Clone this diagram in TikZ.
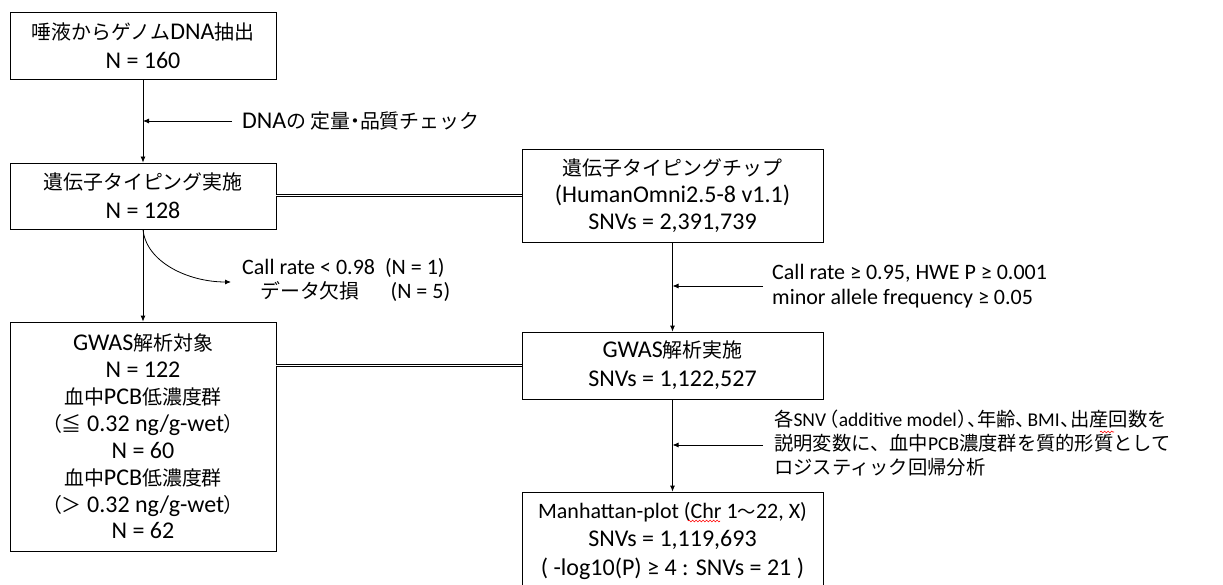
\documentclass[tikz,border=0pt]{standalone}
\usepackage{fontspec}
\setmainfont{Carlito}
\newfontfamily\jpfont{Noto Sans CJK JP}[Scale=0.83]
\newfontfamily\jpfontp{Noto Sans CJK JP}[Scale=0.83,RawFeature=+palt]
\newfontfamily\jpfontl{Noto Sans CJK JP}[Scale=0.99]
\newfontfamily\jpfontlp{Noto Sans CJK JP}[Scale=0.99,RawFeature=+palt]
\newcommand\J[1]{{\jpfont #1}}
\newcommand\JP[1]{{\jpfontp #1}}
\newcommand\JL[1]{{\jpfontl #1}}
\newcommand\JLP[1]{{\jpfontlp #1}}
\usetikzlibrary{arrows.meta,decorations.pathmorphing}
\begin{document}
\begin{tikzpicture}[x=1pt,y=-1pt,
  every node/.style={font=\fontsize{24}{29}\selectfont, inner sep=0pt},
  box/.style={draw, line width=0.8pt, align=center},
  lbox/.style={box, minimum width=266pt},
  rbox/.style={box, minimum width=301pt},
  arr/.style={line width=0.8pt, -{Latex[length=6pt,width=5pt]}},
  dbl/.style={double, line width=0.7pt, double distance=1.8pt},
  lab/.style={anchor=west, align=left},
  spell/.style={draw=red, line width=0.6pt, decorate, decoration={snake, amplitude=0.9pt, segment length=3.5pt}}]
\useasboundingbox (0,0) rectangle (1223,585);
\fill[white] (0,0) rectangle (1223,585);
% left column
\node[lbox, minimum height=67pt] (b1) at (143,45.5) {\J{唾液からゲノム}DNA\J{抽出}\\N = 160};
\node[lbox, minimum height=66pt] (b2) at (143,196) {\J{遺伝子タイピング実施}\\N = 128};
\node[lbox, minimum height=229pt, font=\fontsize{24}{26.9}\selectfont] (b5) at (143,436.5) {GWAS\J{解析対象}\\N = 122\\\J{血中}PCB\J{低濃度群}\\\JP{（}\J{≦} 0.32 ng/g-wet\JP{）}\\N = 60\\\J{血中}PCB\J{低濃度群}\\\JP{（}\J{＞} 0.32 ng/g-wet\JP{）}\\N = 62};
% right column
\node[rbox, minimum height=93pt, font=\fontsize{24}{27}\selectfont] (b3) at (672.5,195.5) {\J{遺伝子タイピングチップ}\\(HumanOmni2.5-8 v1.1)\\SNVs = 2,391,739};
\node[rbox, minimum height=67pt] (b4) at (672.5,365.5) {GWAS\J{解析実施}\\SNVs = 1,122,527};
\node[rbox, minimum height=98pt, font=\fontsize{24}{28.5}\selectfont] (b6) at (672.5,541) {{\fontsize{22}{28.5}\selectfont Manhattan-plot (Chr 1\JP{～}22, X)}\\SNVs = 1,119,693\\( -log10(P) ≥ 4 : SNVs = 21 )};
% labels
\node[lab] (l1) at (242,121) {DNA\J{の}\,\J{定量}\JP{・}\J{品質チェック}};
\node[lab, font=\fontsize{22}{24}\selectfont] (l2) at (242,280) {Call rate < 0.98\ \ (N = 1)\\\hspace*{18pt}{\jpfont\fontsize{24}{24}\selectfont データ欠損}\hspace{1.4em}(N = 5)};
\node[lab, font=\fontsize{22}{24.5}\selectfont] (l3) at (772,286) {Call rate ≥ 0.95, HWE P ≥ 0.001\\minor allele frequency ≥ 0.05};
\node[lab, font=\fontsize{19.5}{24}\selectfont] (l4) at (774,443) {\JL{各}SNV\hspace{2pt}\JLP{（}\hspace{1pt}additive model\hspace{1pt}\JLP{）、}\JL{年齢}\JLP{、}\hspace{2pt}BMI\hspace{1pt}\JLP{、}\JL{出産回数を}\\\JL{説明変数に、血中}PCB\JL{濃度群を}\JL{質的形質として}\\\JL{ロジスティック回帰分析}};
% coordinates
\coordinate (c1) at (232,121);
\coordinate (c2) at (231,282);
\coordinate (c3) at (763,286);
\coordinate (c4) at (763,445);
% connectors
\draw[arr] (b1) -- (b2);
\draw[arr] (c1) -- (c1 -| b1.south);
\draw[arr] (b2) -- (b5);
\draw[arr] (b2.south) .. controls (146,262) and (188,282) .. (c2);
\draw[dbl] (b2.east |- b3.west) -- (b3.west);
\draw[dbl] (b4.west -| b5.east) -- (b4.west);
\draw[arr] (b3) -- (b4);
\draw[arr] (c3) -- (c3 -| b3.south);
\draw[arr] (b4) -- (b6);
\draw[arr] (c4) -- (c4 -| b4.south);
% spell-check marks
\draw[spell] (688,521) -- (720,521);
\draw[spell] (1100,432) -- (1114,432);
\end{tikzpicture}
\end{document}
